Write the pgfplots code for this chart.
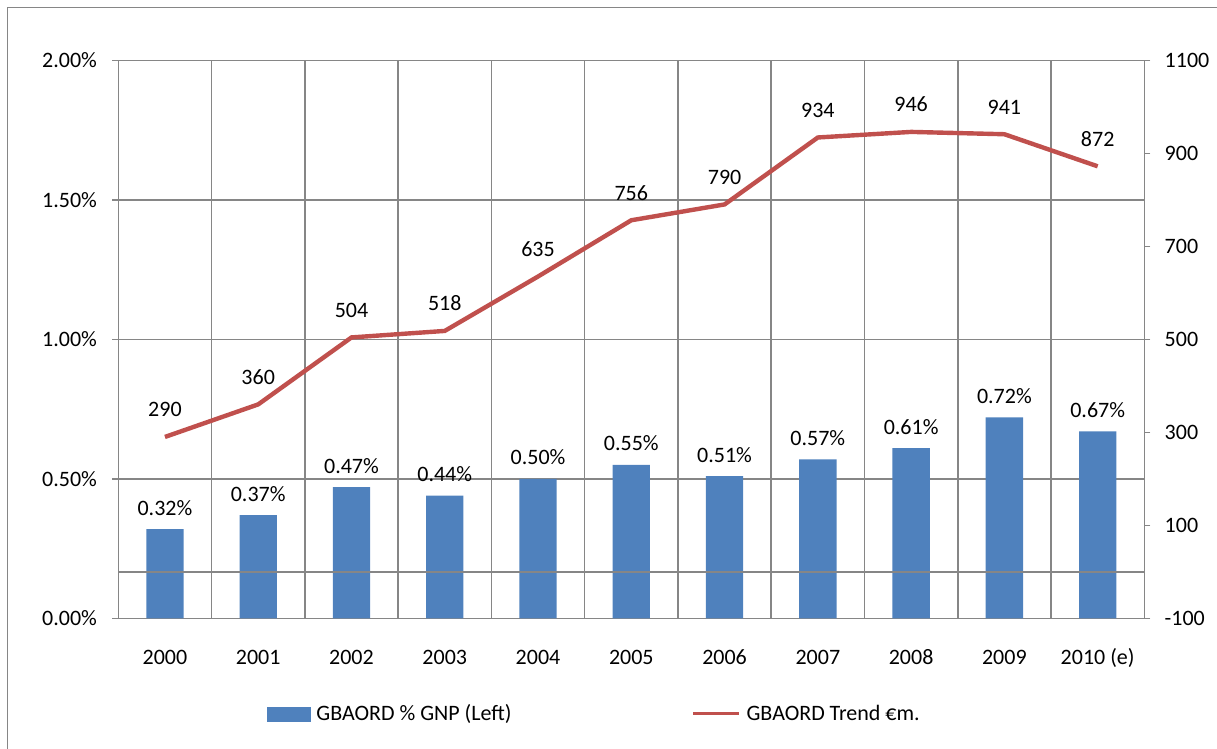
\documentclass[border=0pt]{standalone}
\usepackage{fontspec}
\setmainfont{Carlito}
\usepackage{pgfplots}
\pgfplotsset{compat=1.18}
\definecolor{barblue}{HTML}{4F81BD}
\definecolor{linered}{HTML}{C0504D}
\definecolor{gridgray}{HTML}{868686}

\pgfplotsset{
  /pgf/number format/assume math mode=true,
  /pgf/number format/1000 sep={},
  chartbase/.style={
    scale only axis, width=513pt, height=279pt,
    at={(59.15pt,65.35pt)}, anchor=south west,
    xmin=-0.5, xmax=10.5,
    font=\fontsize{11}{13}\selectfont,
    axis line style={gridgray, line width=0.75pt},
    tick style={gridgray, line width=0.75pt},
    grid style={gridgray, line width=0.75pt},
    tick align=outside,
    major tick length=3pt,
    clip=false,
  },
}

\begin{document}
\begin{tikzpicture}[x=1pt,y=1pt]
\useasboundingbox (0,0) rectangle (608.5,374.5);
\draw[gridgray, line width=0.75pt] (3.65,0) -- (3.65,370.85) -- (608.5,370.85);

% left axis: share of GNP
\begin{axis}[
  chartbase,
  ymin=0, ymax=2,
  ytick={0,0.5,1,1.5,2},
  ytick pos=left,
  yticklabel={\pgfmathprintnumber[fixed,fixed zerofill,precision=2]{\tick}\%},
  yticklabel style={inner sep=0pt, anchor=east, xshift=-7.5pt},
  ymajorgrids,
  xtick={0,...,10},
  xticklabels={2000,2001,2002,2003,2004,2005,2006,2007,2008,2009,2010 (e)},
  xtick pos=bottom,
  xtick style={draw=none},
  xticklabel style={inner sep=0pt, anchor=base, yshift=-20pt},
  minor xtick={0.5,1.5,...,9.5},
  xminorgrids,
  minor tick length=0pt,
]
\addplot[ybar, bar width=0.4, fill=barblue, draw=none,
  nodes near coords={\pgfmathprintnumber[fixed,fixed zerofill,precision=2]{\pgfplotspointmeta}\%},
  every node near coord/.append style={anchor=base, yshift=7pt, inner sep=0pt, text=black}]
  coordinates {(0,0.32) (1,0.37) (2,0.47) (3,0.44) (4,0.50) (5,0.55)
               (6,0.51) (7,0.57) (8,0.61) (9,0.72) (10,0.67)};
\end{axis}

% right axis: trend in million euro
\begin{axis}[
  chartbase,
  ymin=-100, ymax=1100,
  ytick={-100,100,...,1100},
  axis x line=none,
  axis y line*=right,
  yticklabel style={inner sep=0pt, anchor=west, xshift=7pt},
  extra y ticks={0},
  extra y tick labels={},
  extra y tick style={grid=major, major tick length=0pt},
  legend columns=2,
  legend style={at={(rel axis cs:0.1446,-0.1715)}, anchor=west,
    draw=none, fill=none, inner sep=0pt, outer sep=0pt,
    nodes={inner sep=0pt},
    /tikz/every odd column/.style={column sep=3pt},
    /tikz/every even column/.style={column sep=90pt}},
]
\addlegendimage{legend image code/.code={\fill[barblue] (0pt,-3.5pt) rectangle (21.5pt,3.5pt);}}
\addlegendimage{legend image code/.code={\draw[linered, line width=1.5pt] (0pt,0pt) -- (23pt,0pt);}}
\addplot[linered, line width=2.2pt, forget plot,
  nodes near coords={\pgfmathprintnumber[fixed,precision=0]{\pgfplotspointmeta}},
  every node near coord/.append style={anchor=base, yshift=10pt, inner sep=0pt, text=black}]
  coordinates {(0,290) (1,360) (2,504) (3,518) (4,635) (5,756)
               (6,790) (7,934) (8,946) (9,941) (10,872)};
\legend{GBAORD \% GNP (Left), GBAORD Trend €m.}
\end{axis}
\end{tikzpicture}
\end{document}
